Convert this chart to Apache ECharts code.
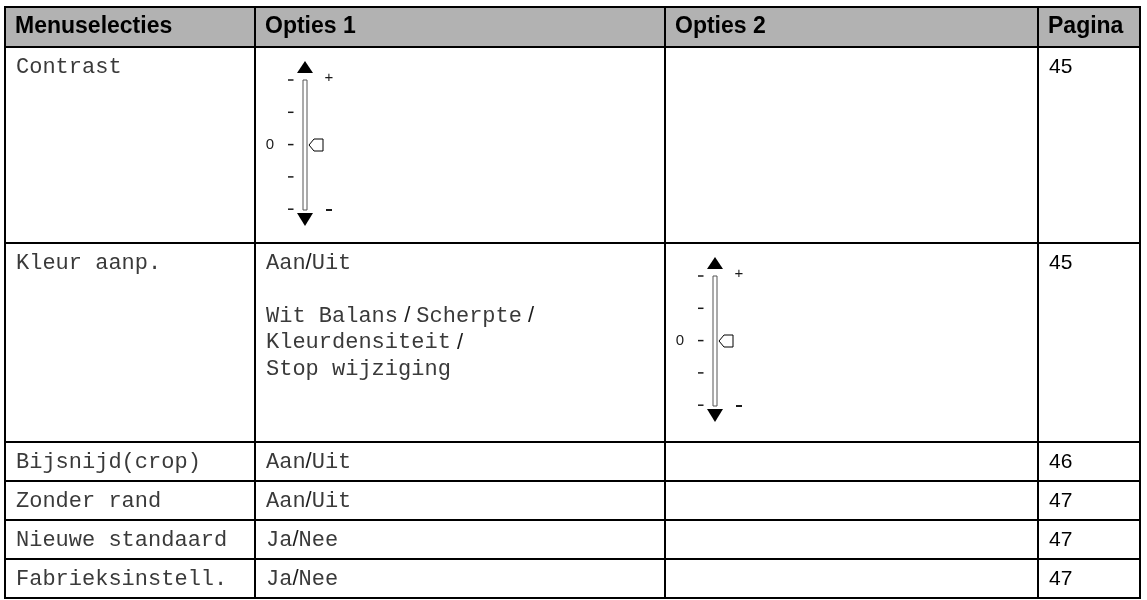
<!DOCTYPE html>
<html><head><meta charset="utf-8">
<script src="https://cdn.jsdelivr.net/npm/echarts@6/dist/echarts.min.js"></script>
<style>html,body{margin:0;padding:0;background:#fff}#c{width:1147px;height:600px}</style>
</head><body><div id="c"></div>
<script>
// ---- data ----
const headers = ['Menuselecties', 'Opties 1', 'Opties 2', 'Pagina'];
const menuItems = ['Contrast', 'Kleur aanp.', 'Bijsnijd(crop)', 'Zonder rand', 'Nieuwe standaard', 'Fabrieksinstell.'];
const options1 = ['[slider]', 'Aan/Uit\n\nWit Balans / Scherpte /\nKleurdensiteit /\nStop wijziging', 'Aan/Uit', 'Aan/Uit', 'Ja/Nee', 'Ja/Nee'];
const options2 = ['', '[slider]', '', '', '', ''];
const pages = ['45', '45', '46', '47', '47', '47'];
const sliderLabels = { top: '+', zero: '0', bottom: '-' };
const sliderTickCount = 5;

// ---- layout (not data) ----
const colEdges = [0, 250, 660, 1033, 1135];
const rowHeights = [40, 196, 199, 39, 39, 39, 39];
const rowEdges = [0];
rowHeights.forEach(h => rowEdges.push(rowEdges[rowEdges.length - 1] + h));
const TOTAL_H = rowEdges[rowEdges.length - 1];
const HEADER_BG = '#b2b2b2';
const MONO = '"Liberation Mono", "Courier New", monospace';
const SANS = '"Liberation Sans", Arial, sans-serif';
const PAD_X = 11, FIRST_LINE = 20, LINE_H = 26.5;

const cells = [];
for (let r = 0; r < rowHeights.length; r++) for (let c = 0; c < headers.length; c++) cells.push([c, r]);

function toRich(line) {
  return line.split(/( ?\/ ?)/).filter(t => t.length).map(t =>
    t.indexOf('/') >= 0 ? '{s|' + t + '}' : '{m|' + t + '}').join('');
}
const richStyles = {
  m: { fontFamily: MONO, fontSize: 22, fill: '#3a3a3a' },
  s: { fontFamily: SANS, fontSize: 22, fill: '#1a1a1a' }
};

function slider(x, y) {
  const k = [];
  const ink = '#1a1a1a';
  k.push({ type: 'polygon', shape: { points: [[x + 50, y + 14], [x + 42, y + 26], [x + 58, y + 26]] }, style: { fill: '#000' } });
  k.push({ type: 'rect', shape: { x: x + 48, y: y + 33, width: 4, height: 130 }, style: { fill: '#fff', stroke: '#555', lineWidth: 1 } });
  k.push({ type: 'polygon', shape: { points: [[x + 42, y + 166], [x + 58, y + 166], [x + 50, y + 179]] }, style: { fill: '#000' } });
  for (let i = 0; i < sliderTickCount; i++) {
    const ty = y + 33 + i * 32.3;
    k.push({ type: 'rect', shape: { x: x + 33, y: ty - 0.75, width: 5.5, height: 1.5 }, style: { fill: ink } });
  }
  k.push({ type: 'text', style: { text: sliderLabels.top, x: x + 74, y: y + 31, fontFamily: SANS, fontSize: 15, fill: ink, align: 'center', verticalAlign: 'middle' } });
  k.push({ type: 'rect', shape: { x: x + 71, y: y + 162, width: 6, height: 2 }, style: { fill: ink } });
  k.push({ type: 'text', style: { text: sliderLabels.zero, x: x + 15, y: y + 98, fontFamily: SANS, fontSize: 15, fill: ink, align: 'center', verticalAlign: 'middle' } });
  k.push({ type: 'polygon', shape: { points: [[x + 54, y + 98], [x + 59, y + 92], [x + 68, y + 92], [x + 68, y + 104], [x + 59, y + 104]] }, style: { fill: '#fff', stroke: '#000', lineWidth: 1 } });
  return k;
}

function renderItem(params, api) {
  const c = api.value(0), r = api.value(1);
  const p0 = api.coord([colEdges[c], rowEdges[r]]);
  const p1 = api.coord([colEdges[c + 1], rowEdges[r + 1]]);
  const x = p0[0], y = p0[1], w = p1[0] - p0[0], h = p1[1] - p0[1];
  const children = [{ type: 'rect', shape: { x: x, y: y, width: w, height: h }, style: { fill: r === 0 ? HEADER_BG : '#fff', stroke: '#000', lineWidth: 2 } }];
  if (r === 0) {
    children.push({ type: 'text', style: { text: headers[c], x: x + PAD_X - 1, y: y + h / 2, fontFamily: SANS, fontWeight: 'bold', fontSize: 23, fill: '#000', verticalAlign: 'middle' } });
  } else {
    const i = r - 1;
    let content = c === 0 ? menuItems[i] : c === 1 ? options1[i] : c === 2 ? options2[i] : pages[i];
    if (content === '[slider]') {
      children.push.apply(children, slider(x, y));
    } else if (c === 3) {
      children.push({ type: 'text', style: { text: content, x: x + PAD_X, y: y + FIRST_LINE, fontFamily: SANS, fontSize: 21, fill: '#000', verticalAlign: 'middle' } });
    } else if (content) {
      content.split('\n').forEach((line, li) => {
        if (!line) return;
        children.push({ type: 'text', style: { text: toRich(line), rich: richStyles, x: x + PAD_X, y: y + FIRST_LINE + li * LINE_H, verticalAlign: 'middle', fontFamily: MONO, fontSize: 22 } });
      });
    }
  }
  return { type: 'group', children: children };
}

const chart = echarts.init(document.getElementById('c'));
chart.setOption({
  animation: false,
  grid: { left: 5, top: 7, width: colEdges[colEdges.length - 1], height: TOTAL_H },
  xAxis: { type: 'value', min: 0, max: colEdges[colEdges.length - 1], show: false },
  yAxis: { type: 'value', min: 0, max: TOTAL_H, inverse: true, show: false },
  series: [{ type: 'custom', coordinateSystem: 'cartesian2d', clip: false, data: cells, renderItem: renderItem, silent: true }]
});
</script></body></html>
